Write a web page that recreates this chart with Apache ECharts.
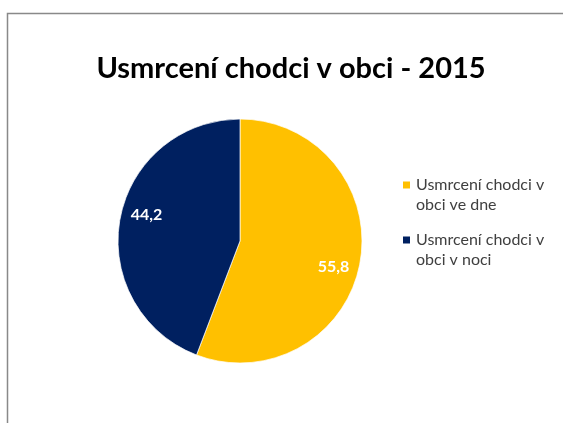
<!DOCTYPE html>
<html>
<head>
<meta charset="utf-8">
<script src="https://cdn.jsdelivr.net/npm/echarts@6/dist/echarts.min.js"></script>
<style>
html,body{margin:0;padding:0;background:#fff;}
#c{width:563px;height:423px;}
</style>
</head>
<body>
<div id="c"></div>
<script>
const titleText = 'Usmrcení chodci v obci - 2015';
const categories = ['Usmrcení chodci v obci ve dne', 'Usmrcení chodci v obci v noci'];
const values = [55.8, 44.2];
const colors = ['#FFC000', '#002060'];

const chart = echarts.init(document.getElementById('c'));
const data = categories.map((n, i) => ({ name: n, value: values[i], itemStyle: { color: colors[i] } }));
const legendLabels = {
  'Usmrcení chodci v obci ve dne': '\nUsmrcení chodci v\nobci ve dne',
  'Usmrcení chodci v obci v noci': '\nUsmrcení chodci v\nobci v noci'
};
chart.setOption({
  animation: false,
  backgroundColor: '#fff',
  graphic: [{
    type: 'rect', silent: true,
    shape: { x: 7.5, y: 13.5, width: 700, height: 600 },
    style: { fill: 'none', stroke: '#898989', lineWidth: 1.5 }
  }],
  title: {
    text: titleText,
    left: 291, top: 54, textAlign: 'center', padding: 0,
    textStyle: { fontFamily: 'Lato', fontWeight: 'bold', fontSize: 29, color: '#000' }
  },
  legend: {
    orient: 'vertical',
    left: 401, top: 155, padding: 0,
    itemWidth: 9, itemHeight: 9, itemGap: -5,
    icon: 'rect',
    formatter: n => legendLabels[n],
    textStyle: { fontFamily: 'Lato', fontSize: 16, color: '#404040', lineHeight: 20 },
    data: categories
  },
  series: [{
    type: 'pie',
    center: [240, 241],
    radius: [0, 122],
    startAngle: 90,
    clockwise: true,
    label: { show: false },
    labelLine: { show: false },
    emphasis: { disabled: true },
    itemStyle: { borderColor: '#fff', borderWidth: 0.7 },
    data: data
  }, {
    type: 'pie',
    center: [240, 241],
    radius: [66, 122],
    startAngle: 85,
    clockwise: true,
    silent: true,
    legendHoverLink: false,
    itemStyle: { color: 'rgba(0,0,0,0)' },
    label: {
      show: true, position: 'inside',
      formatter: p => String(p.value).replace('.', ','),
      fontFamily: 'Lato', fontWeight: 'bold', fontSize: 16, color: '#fff'
    },
    labelLine: { show: false },
    emphasis: { disabled: true },
    data: categories.map((n, i) => ({ name: n, value: values[i], itemStyle: { color: 'rgba(0,0,0,0)' } }))
  }]
});
</script>
</body>
</html>
